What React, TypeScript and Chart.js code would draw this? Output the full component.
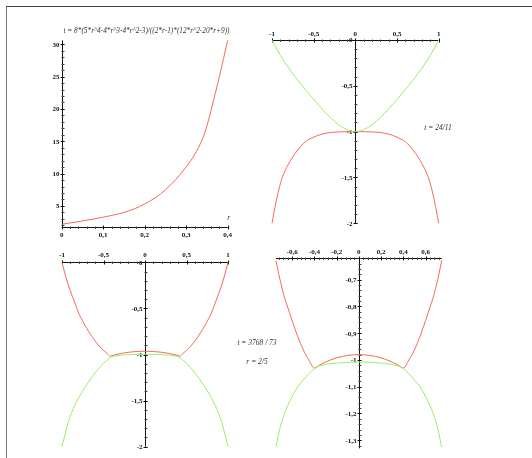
import React, { useEffect, useRef } from 'react';
import { Chart, registerables } from 'chart.js';

Chart.register(...registerables);

const PAGE_W = 532;
const PAGE_H = 458;

const RED = 'rgb(245,105,85)';
const GREEN = 'rgb(150,238,105)';

// ---------- Panel 1 : t(r) ----------
const p1R = [0, 0.025, 0.05, 0.075, 0.1, 0.125, 0.15, 0.175, 0.2, 0.225, 0.25, 0.275, 0.3, 0.32, 0.34, 0.35, 0.36, 0.37, 0.38, 0.39, 0.4];
const p1T = [2.16, 2.42, 2.68, 2.96, 3.26, 3.6, 4.0, 4.55, 5.3, 6.25, 7.5, 9.1, 11.05, 12.9, 15.5, 17.4, 19.8, 22.4, 25.0, 27.8, 30.6];
const p1XTicks = [0, 0.1, 0.2, 0.3, 0.4];
const p1XTickLabels = ['0', '0,1', '0,2', '0,3', '0,4'];
const p1YTicks = [5, 10, 15, 20, 25, 30];
const p1YTickLabels = ['5', '10', '15', '20', '25', '30'];

// ---------- Panel 2 : t = 24/11 ----------
const p2X = [-1, -0.95, -0.9, -0.85, -0.8, -0.75, -0.7, -0.65, -0.6, -0.5, -0.4, -0.3, -0.2, -0.1, 0, 0.1, 0.2, 0.3, 0.4, 0.5, 0.6, 0.65, 0.7, 0.75, 0.8, 0.85, 0.9, 0.95, 1];
const p2Red = [-2.0, -1.76, -1.57, -1.44, -1.35, -1.275, -1.21, -1.155, -1.11, -1.06, -1.027, -1.01, -1.003, -1.0, -1.0, -1.0, -1.003, -1.01, -1.027, -1.06, -1.11, -1.155, -1.21, -1.275, -1.35, -1.44, -1.57, -1.76, -2.0];
const p2Green = [0, -0.087, -0.167, -0.24, -0.305, -0.368, -0.428, -0.485, -0.54, -0.648, -0.752, -0.845, -0.925, -0.978, -1.0, -0.978, -0.925, -0.845, -0.752, -0.648, -0.54, -0.485, -0.428, -0.368, -0.305, -0.24, -0.167, -0.087, 0];
const p2XTicks = [-1, -0.5, 0, 0.5, 1];
const p2XTickLabels = ['-1', '-0,5', '0', '0,5', '1'];
const p2YTicks = [0, -0.5, -1, -1.5, -2];
const p2YTickLabels = ['0', '-0,5', '-1', '-1,5', '-2'];

// ---------- Panel 3 : t = 3768/73, r = 2/5 ----------
const p3X = [-1, -0.95, -0.9, -0.85, -0.8, -0.75, -0.7, -0.65, -0.6, -0.55, -0.5, -0.45, -0.42, -0.4, -0.3, -0.2, -0.1, 0, 0.1, 0.2, 0.3, 0.4, 0.42, 0.45, 0.5, 0.55, 0.6, 0.65, 0.7, 0.75, 0.8, 0.85, 0.9, 0.95, 1];
const p3Red = [0, -0.17, -0.31, -0.43, -0.55, -0.64, -0.72, -0.79, -0.855, -0.91, -0.955, -0.995, -1.018, -1.012, -0.99, -0.976, -0.967, -0.964, -0.967, -0.976, -0.99, -1.012, -1.018, -0.995, -0.955, -0.91, -0.855, -0.79, -0.72, -0.64, -0.55, -0.43, -0.31, -0.17, 0];
const p3Green = [-2.0, -1.82, -1.67, -1.56, -1.47, -1.392, -1.322, -1.257, -1.197, -1.143, -1.095, -1.055, -1.035, -1.025, -1.009, -1.002, -0.998, -0.997, -0.998, -1.002, -1.009, -1.025, -1.035, -1.055, -1.095, -1.143, -1.197, -1.257, -1.322, -1.392, -1.47, -1.56, -1.67, -1.82, -2.0];
const p3XTicks = [-1, -0.5, 0, 0.5, 1];
const p3XTickLabels = ['-1', '-0,5', '0', '0,5', '1'];
const p3YTicks = [0, -0.5, -1, -1.5, -2];
const p3YTickLabels = ['0', '-0,5', '-1', '-1,5', '-2'];

// ---------- Panel 4 : zoom ----------
const p4X = [-0.745, -0.72, -0.7, -0.68, -0.65, -0.6, -0.55, -0.5, -0.45, -0.4, -0.35, -0.3, -0.25, -0.2, -0.15, -0.1, -0.05, 0, 0.05, 0.1, 0.15, 0.2, 0.25, 0.3, 0.35, 0.4, 0.45, 0.5, 0.55, 0.6, 0.65, 0.68, 0.7, 0.72, 0.745];
const p4Red = [-0.628, -0.68, -0.715, -0.75, -0.79, -0.853, -0.912, -0.962, -1.0, -1.03, -1.018, -1.008, -0.999, -0.992, -0.987, -0.983, -0.981, -0.98, -0.981, -0.983, -0.987, -0.992, -0.999, -1.008, -1.018, -1.03, -1.0, -0.962, -0.912, -0.853, -0.79, -0.75, -0.715, -0.68, -0.628];
const p4Green = [-1.325, -1.275, -1.24, -1.215, -1.18, -1.136, -1.1, -1.075, -1.052, -1.032, -1.022, -1.017, -1.014, -1.012, -1.01, -1.009, -1.008, -1.008, -1.008, -1.009, -1.01, -1.012, -1.014, -1.017, -1.022, -1.032, -1.052, -1.075, -1.1, -1.136, -1.18, -1.215, -1.24, -1.275, -1.325];
const p4XTicks = [-0.6, -0.4, -0.2, 0, 0.2, 0.4, 0.6];
const p4XTickLabels = ['-0,6', '-0,4', '-0,2', '0', '0,2', '0,4', '0,6'];
const p4YTicks = [-0.7, -0.8, -0.9, -1, -1.1, -1.2, -1.3];
const p4YTickLabels = ['-0,7', '-0,8', '-0,9', '-1', '-1,1', '-1,2', '-1,3'];

type Series = { x: number[]; y: number[]; color: string };
type Txt = { text: string; x: number; y: number; maxW?: number };
type Panel = {
  key: string;
  area: [number, number, number, number];
  xRange: [number, number];
  yRange: [number, number];
  series: Series[];
  xAxisAt: number;
  yAxisAt: number;
  xTicks: number[];
  xLabels: string[];
  xMinor: number;
  yTicks: number[];
  yLabels: string[];
  yMinor: number;
  xLabelDy: number;
  texts: Txt[];
};

const panels: Panel[] = [
  {
    key: 'p1',
    area: [61.7, 40.4, 227.7, 227.3],
    xRange: [0, 0.4],
    yRange: [1.7, 30.6],
    series: [{ x: p1R, y: p1T, color: RED }],
    xAxisAt: 1.7,
    yAxisAt: 0,
    xTicks: p1XTicks,
    xLabels: p1XTickLabels,
    xMinor: 0.02,
    yTicks: p1YTicks,
    yLabels: p1YTickLabels,
    yMinor: 1,
    xLabelDy: 7.2,
    texts: [
      { text: 't = 8*(5*r^4-4*r^3-4*r^2-3)/((2*r-1)*(12*r^2-20*r+9))', x: 146.5, y: 31, maxW: 166 },
      { text: 'r', x: 228.7, y: 218 },
    ],
  },
  {
    key: 'p2',
    area: [272, 40, 438.7, 223.3],
    xRange: [-1, 1],
    yRange: [-2, 0],
    series: [
      { x: p2X, y: p2Green, color: GREEN },
      { x: p2X, y: p2Red, color: RED },
    ],
    xAxisAt: 0,
    yAxisAt: 0,
    xTicks: p2XTicks,
    xLabels: p2XTickLabels,
    xMinor: 0.1,
    yTicks: p2YTicks,
    yLabels: p2YTickLabels,
    yMinor: 0.1,
    xLabelDy: -6.7,
    texts: [{ text: 't = 24/11', x: 438, y: 128.5 }],
  },
  {
    key: 'p3',
    area: [62, 262.3, 228, 446.7],
    xRange: [-1, 1],
    yRange: [-2, 0],
    series: [
      { x: p3X, y: p3Green, color: GREEN },
      { x: p3X, y: p3Red, color: RED },
    ],
    xAxisAt: 0,
    yAxisAt: 0,
    xTicks: p3XTicks,
    xLabels: p3XTickLabels,
    xMinor: 0.1,
    yTicks: p3YTicks,
    yLabels: p3YTickLabels,
    yMinor: 0.1,
    xLabelDy: -7.3,
    texts: [
      { text: 't = 3768 / 73', x: 257, y: 343.3 },
      { text: 'r = 2/5', x: 257, y: 361.7 },
    ],
  },
  {
    key: 'p4',
    area: [276, 257.7, 441.7, 448.3],
    xRange: [-0.745, 0.745],
    yRange: [-1.33, -0.618],
    series: [
      { x: p4X, y: p4Green, color: GREEN },
      { x: p4X, y: p4Red, color: RED },
    ],
    xAxisAt: -0.618,
    yAxisAt: 0,
    xTicks: p4XTicks,
    xLabels: p4XTickLabels,
    xMinor: 0.04,
    yTicks: p4YTicks,
    yLabels: p4YTickLabels,
    yMinor: 0.02,
    xLabelDy: -6.7,
    texts: [],
  },
];

const TICK_FONT = 'bold 7px "Liberation Serif", "DejaVu Serif", serif';
const TEXT_FONT = 'italic 7.5px "Liberation Serif", "DejaVu Serif", serif';

function minorValues(min: number, max: number, step: number): number[] {
  const out: number[] = [];
  const k0 = Math.ceil(min / step - 1e-6);
  const k1 = Math.floor(max / step + 1e-6);
  for (let k = k0; k <= k1; k++) out.push(k * step);
  return out;
}

function drawAxes(chart: any, p: Panel) {
  const ctx: CanvasRenderingContext2D = chart.ctx;
  const xs = chart.scales.x;
  const ys = chart.scales.y;
  const axY = Math.round(ys.getPixelForValue(p.xAxisAt)) + 0.5;
  const axX = Math.round(xs.getPixelForValue(p.yAxisAt)) + 0.5;
  ctx.save();
  ctx.strokeStyle = '#111';
  ctx.lineWidth = 1;
  ctx.beginPath();
  ctx.moveTo(xs.left, axY);
  ctx.lineTo(xs.right, axY);
  ctx.moveTo(axX, ys.top);
  ctx.lineTo(axX, ys.bottom);
  ctx.stroke();

  ctx.strokeStyle = '#444';
  ctx.beginPath();
  for (const v of minorValues(p.xRange[0], p.xRange[1], p.xMinor)) {
    const px = Math.round(xs.getPixelForValue(v)) + 0.5;
    ctx.moveTo(px, axY - 1);
    ctx.lineTo(px, axY + 1.5);
  }
  for (const v of minorValues(p.yRange[0], p.yRange[1], p.yMinor)) {
    const py = Math.round(ys.getPixelForValue(v)) + 0.5;
    ctx.moveTo(axX - 1, py);
    ctx.lineTo(axX + 2, py);
  }
  ctx.stroke();

  ctx.strokeStyle = '#111';
  ctx.beginPath();
  for (const v of p.xTicks) {
    const px = Math.round(xs.getPixelForValue(v)) + 0.5;
    ctx.moveTo(px, axY - 2);
    ctx.lineTo(px, axY + 2);
  }
  for (const v of p.yTicks) {
    const py = Math.round(ys.getPixelForValue(v)) + 0.5;
    ctx.moveTo(axX - 2, py);
    ctx.lineTo(axX + 2, py);
  }
  ctx.stroke();

  ctx.fillStyle = '#111';
  ctx.font = TICK_FONT;
  ctx.textBaseline = 'middle';
  ctx.textAlign = 'center';
  p.xTicks.forEach((v, i) => {
    ctx.fillText(p.xLabels[i], xs.getPixelForValue(v), axY + p.xLabelDy);
  });
  ctx.textAlign = 'right';
  p.yTicks.forEach((v, i) => {
    ctx.fillText(p.yLabels[i], axX - 3, ys.getPixelForValue(v) + 0.5);
  });
  ctx.restore();
}

function drawTexts(chart: any, p: Panel) {
  const ctx: CanvasRenderingContext2D = chart.ctx;
  ctx.save();
  ctx.fillStyle = '#333';
  ctx.font = TEXT_FONT;
  ctx.textAlign = 'center';
  ctx.textBaseline = 'middle';
  for (const t of p.texts) {
    if (t.maxW) ctx.fillText(t.text, t.x, t.y, t.maxW);
    else ctx.fillText(t.text, t.x, t.y);
  }
  ctx.restore();
}

function PanelChart({ panel }: { panel: Panel }) {
  const ref = useRef<HTMLCanvasElement>(null);
  useEffect(() => {
    const canvas = ref.current;
    if (!canvas) return;
    const [l, t, r, b] = panel.area;
    const plugin = {
      id: 'mapleAxes_' + panel.key,
      beforeDatasetsDraw(chart: any) {
        drawAxes(chart, panel);
      },
      afterDraw(chart: any) {
        drawTexts(chart, panel);
      },
    };
    const chart = new Chart(canvas, {
      type: 'scatter',
      data: {
        datasets: panel.series.map((s) => ({
          data: s.x.map((x, i) => ({ x, y: s.y[i] })),
          showLine: true,
          borderColor: s.color,
          backgroundColor: s.color,
          borderWidth: 1,
          pointRadius: 0,
          pointHoverRadius: 0,
          tension: 0.4,
          cubicInterpolationMode: 'monotone',
          fill: false,
          clip: 2,
        })),
      },
      options: {
        responsive: false,
        animation: false,
        devicePixelRatio: 1,
        events: [],
        layout: { padding: { left: l, top: t, right: PAGE_W - r, bottom: PAGE_H - b } },
        plugins: { legend: { display: false }, tooltip: { enabled: false }, title: { display: false } },
        scales: {
          x: { type: 'linear', min: panel.xRange[0], max: panel.xRange[1], display: false },
          y: { type: 'linear', min: panel.yRange[0], max: panel.yRange[1], display: false },
        },
      } as any,
      plugins: [plugin],
    } as any);
    return () => chart.destroy();
  }, [panel]);
  return (
    <canvas
      ref={ref}
      width={PAGE_W}
      height={PAGE_H}
      style={{ position: 'absolute', left: 0, top: 0, width: PAGE_W, height: PAGE_H }}
    />
  );
}

export default function App() {
  return (
    <div
      style={{
        position: 'fixed',
        left: 0,
        top: 0,
        width: PAGE_W,
        height: PAGE_H,
        background: '#fff',
        overflow: 'hidden',
      }}
    >
      <div
        style={{
          position: 'absolute',
          left: 6,
          top: 6,
          right: 0,
          bottom: 0,
          borderTop: '1px solid #444',
          borderLeft: '1px solid #777',
        }}
      />
      {panels.map((p) => (
        <PanelChart key={p.key} panel={p} />
      ))}
    </div>
  );
}
